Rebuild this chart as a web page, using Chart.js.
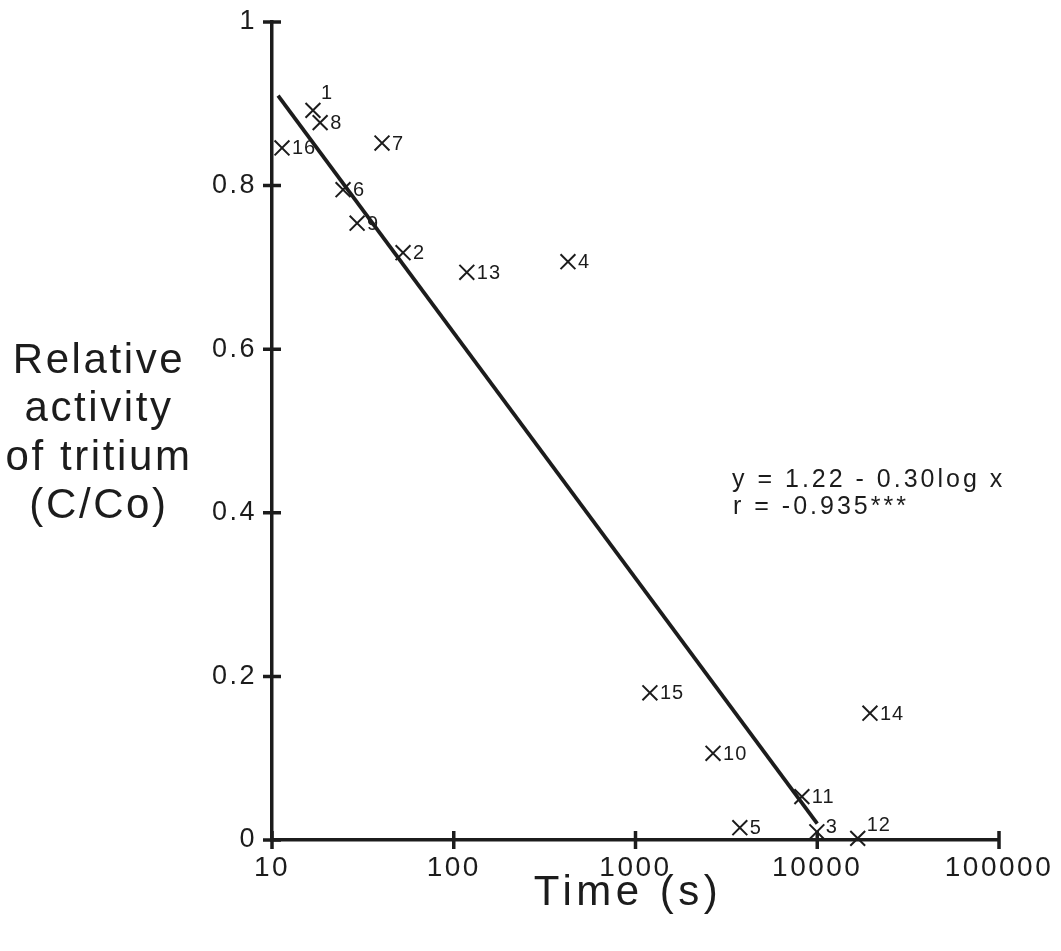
<!DOCTYPE html>
<html>
<head>
<meta charset="utf-8">
<script src="https://cdn.jsdelivr.net/npm/chart.js@4/dist/chart.umd.min.js"></script>
<style>
  html, body { margin: 0; padding: 0; background: #ffffff; }
  #wrap { width: 1061px; height: 951px; position: relative; }
</style>
</head>
<body>
<div id="wrap"><canvas id="c" width="1061" height="951"></canvas></div>
<script>
// ---- data ----
const pointIds     = ['1','2','3','4','5','6','7','8','9','10','11','12','13','14','15','16'];
const timeS        = [16.8, 52.6, 9950, 425, 3750, 24.6, 40.3, 18.4, 29.4, 2670, 8230, 16700, 118, 19500, 1200, 11.35];
const relActivity  = [0.892, 0.718, 0.010, 0.707, 0.015, 0.795, 0.852, 0.877, 0.754, 0.106, 0.053, 0.002, 0.694, 0.155, 0.180, 0.846];

// regression line end points  (y = 1.22 - 0.30 log x)
const fitX = [10.8, 10000];
const fitY = [0.91, 0.02];

const xTickValues = [10, 100, 1000, 10000, 100000];
const xTickLabels = ['10', '100', '1000', '10000', '100000'];
const yTickValues = [0, 0.2, 0.4, 0.6, 0.8, 1];
const yTickLabels = ['0', '0.2', '0.4', '0.6', '0.8', '1'];

const yTitleLines = ['Relative', 'activity', 'of tritium', '(C/Co)'];
const xTitle = 'Time (s)';
const equationLines = ['y = 1.22 - 0.30log x', 'r = -0.935***'];

// ---- styling ----
const INK = '#1c1c1c';
const FONT = '"Liberation Sans", Arial, Helvetica, sans-serif';
const labelNudge = { '1': [8, -17], '3': [9, -4], '12': [9, -13] };

const textPlugin = {
  id: 'textPlugin',
  beforeDraw(chart) {
    chart.ctx.letterSpacing = '2.5px';
  },
  afterDatasetsDraw(chart) {
    const ctx = chart.ctx;
    const xs = chart.scales.x, ys = chart.scales.y;
    ctx.save();
    // cross tick marks
    ctx.strokeStyle = INK;
    ctx.lineWidth = 3.5;
    ctx.beginPath();
    xTickValues.forEach(v => {
      const px = xs.getPixelForValue(v);
      ctx.moveTo(px, ys.bottom - 9);
      ctx.lineTo(px, ys.bottom + 9);
    });
    yTickValues.forEach(v => {
      const py = ys.getPixelForValue(v);
      ctx.moveTo(xs.left - 9, py);
      ctx.lineTo(xs.left + 9, py);
    });
    ctx.stroke();

    // point number labels
    const meta = chart.getDatasetMeta(1);
    ctx.fillStyle = INK;
    ctx.font = '20px ' + FONT;
    ctx.letterSpacing = '1px';
    ctx.textAlign = 'left';
    ctx.textBaseline = 'middle';
    meta.data.forEach((el, i) => {
      const id = pointIds[i];
      const n = labelNudge[id] || [10, 1];
      ctx.fillText(id, el.x + n[0], el.y + n[1]);
    });

    // regression equation
    ctx.font = '25px ' + FONT;
    ctx.letterSpacing = '3px';
    ctx.textBaseline = 'alphabetic';
    ctx.fillText(equationLines[0], 732, 487);
    ctx.fillText(equationLines[1], 733, 514);

    // y title (horizontal, multi-line)
    ctx.font = '42px ' + FONT;
    ctx.letterSpacing = '2.6px';
    ctx.textAlign = 'center';
    const base = [373, 421, 470, 518];
    yTitleLines.forEach((t, i) => ctx.fillText(t, 99, base[i]));

    // x title
    ctx.font = '42px ' + FONT;
    ctx.letterSpacing = '4.5px';
    ctx.fillText(xTitle, 628, 905);
    ctx.restore();
  }
};

new Chart(document.getElementById('c'), {
  data: {
    datasets: [
      {
        type: 'line',
        data: fitX.map((x, i) => ({ x: x, y: fitY[i] })),
        borderColor: INK,
        borderWidth: 3.8,
        pointRadius: 0,
        fill: false,
        tension: 0
      },
      {
        type: 'scatter',
        data: timeS.map((x, i) => ({ x: x, y: relActivity[i] })),
        pointStyle: 'crossRot',
        pointRadius: 10.5,
        pointHoverRadius: 10.5,
        borderColor: INK,
        backgroundColor: INK,
        pointBorderWidth: 2,
        clip: false
      }
    ]
  },
  options: {
    responsive: false,
    animation: false,
    events: [],
    layout: { padding: { left: 0, right: 62, top: 22, bottom: 0 } },
    plugins: { legend: { display: false }, tooltip: { enabled: false } },
    scales: {
      x: {
        type: 'logarithmic',
        min: 10,
        max: 100000,
        afterBuildTicks(scale) { scale.ticks = xTickValues.map(v => ({ value: v, major: true })); },
        afterFit(scale) { scale.height = 111; scale.paddingLeft = 0; scale.paddingRight = 0; scale.paddingTop = 0; scale.paddingBottom = 0; },
        grid: { display: true, drawOnChartArea: false, drawTicks: false },
        border: { display: true, color: INK, width: 3.5 },
        ticks: {
          autoSkip: false,
          maxRotation: 0,
          padding: 11,
          color: INK,
          font: { family: FONT, size: 28 },
          callback: (v, i) => xTickLabels[i]
        }
      },
      y: {
        type: 'linear',
        min: 0,
        max: 1,
        afterBuildTicks(scale) { scale.ticks = yTickValues.map(v => ({ value: v })); },
        afterFit(scale) { scale.width = 272; scale.paddingTop = 0; scale.paddingBottom = 0; scale.paddingLeft = 0; scale.paddingRight = 0; },
        grid: { display: true, drawOnChartArea: false, drawTicks: false },
        border: { display: true, color: INK, width: 3.5 },
        ticks: {
          autoSkip: false,
          padding: 15,
          color: INK,
          font: { family: FONT, size: 27 },
          callback: (v, i) => yTickLabels[i]
        }
      }
    }
  },
  plugins: [textPlugin]
});
</script>
</body>
</html>
